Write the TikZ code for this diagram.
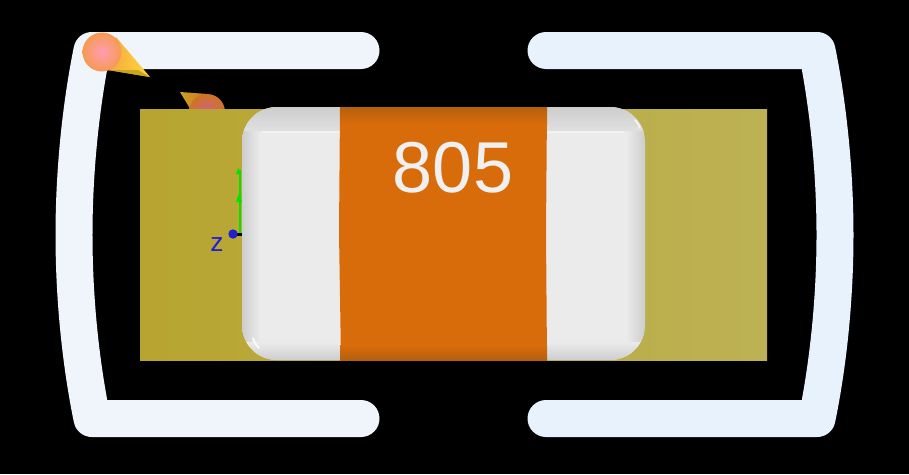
\documentclass[tikz,border=0pt]{standalone}
\usepackage{fontspec}
\setmainfont{Liberation Sans}

\definecolor{leftbar}{HTML}{F0F5FC}
\definecolor{rightbar}{HTML}{E8F2FD}
\definecolor{chipface}{HTML}{EBEBEB}
\definecolor{chipedge}{HTML}{CDCDCD}
\definecolor{bandorange}{HTML}{D96C0A}
\definecolor{banddark}{HTML}{B4600F}
\definecolor{boardleft}{HTML}{B8A530}
\definecolor{boardright}{HTML}{BCB154}
\definecolor{ballouter}{HTML}{F69A52}
\definecolor{ballinner}{HTML}{FF9DB4}
\definecolor{coneleft}{HTML}{F4A83E}
\definecolor{coneright}{HTML}{FFD83C}
\definecolor{conelow}{HTML}{C9A41E}
\definecolor{farouter}{HTML}{CF7420}
\definecolor{farinner}{HTML}{D0608C}
\definecolor{axisblue}{HTML}{2020D0}

\tikzset{
  barline/.style={line width=0.74cm,line cap=round,line join=round}
}

\begin{document}
\begin{tikzpicture}[x=0.02cm,y=-0.02cm]
\fill[black] (0,0) rectangle (909,474);
\useasboundingbox (0,0) rectangle (909,474);

% brackets
\draw[barline,leftbar] (361,50.5) -- (92,50.5)
  .. controls (80,110) and (74,175) .. (74,235)
  .. controls (74,295) and (80,360) .. (92,418.5) -- (361,418.5);
\draw[barline,rightbar] (546,50.5) -- (817,50.5)
  .. controls (829,110) and (835,175) .. (835,235)
  .. controls (835,295) and (829,360) .. (817,418.5) -- (546,418.5);

% lights
\shade[left color=coneleft,right color=coneright]
  (116,37) -- (150,77) -- (108,70) -- cycle;
\fill[conelow] (108,70) -- (150,77) -- (138,70) -- cycle;
\shade[inner color=ballinner,outer color=ballouter] (102,52) circle (19.5);
\shade[left color=conelow,right color=farouter]
  (180,92) -- (208,94) -- (200,125) -- cycle;
\shade[inner color=farinner,outer color=farouter] (207,112) circle (18);

% board
\shade[left color=boardleft,right color=boardright]
  (140,109) rectangle (767,360);

% axes
\draw[green!90!black,line width=0.04cm] (240,234) -- (240,170);
\fill[green!90!black] (239,193) -- (242,202) -- (236,202) -- cycle;
\fill[green!90!black] (238,168) -- (241,174) -- (236,174) -- cycle;
\draw[black,line width=0.06cm] (234,234) -- (242,234);
\fill[axisblue] (233,234) circle (4.7);
\node[text=axisblue,font=\fontsize{15}{15}\selectfont] (zlabel) at (217,245) {z};

% chip body
\begin{scope}
\clip[rounded corners=0.7cm] (242,107) rectangle (645,360);
\fill[chipface] (242,107) rectangle (645,360);
\shade[left color=chipedge,right color=chipface] (242,107) rectangle (260,360);
\shade[left color=chipface,right color=chipedge] (626,107) rectangle (645,360);
\shade[top color=chipedge,bottom color=chipface!95!black] (242,107) rectangle (645,130);
\shade[top color=chipface,bottom color=chipedge] (242,342) rectangle (645,360);
\draw[white!35!chipface,line width=0.03cm] (262,132) -- (624,132);
\end{scope}
\draw[white!70!chipface,line width=0.04cm,line cap=round] (253,338) .. controls (254,342) and (256,345) .. (259,348);
\draw[white!60!chipface,line width=0.03cm,line cap=round] (635,120) .. controls (637,122) and (639,125) .. (640,128);

% orange band
\fill[bandorange] (340,107) -- (547,107) -- (546,233) -- (547,360) -- (341,360) -- (339,233) -- cycle;
\shade[top color=banddark,bottom color=bandorange] (340,107) rectangle (547,124);
\shade[top color=bandorange,bottom color=banddark] (340,345) rectangle (547,360);
\node[text=white!94!black,font=\fontsize{41}{41}\selectfont] (sizelabel) at (453,168) {805};
\end{tikzpicture}
\end{document}
